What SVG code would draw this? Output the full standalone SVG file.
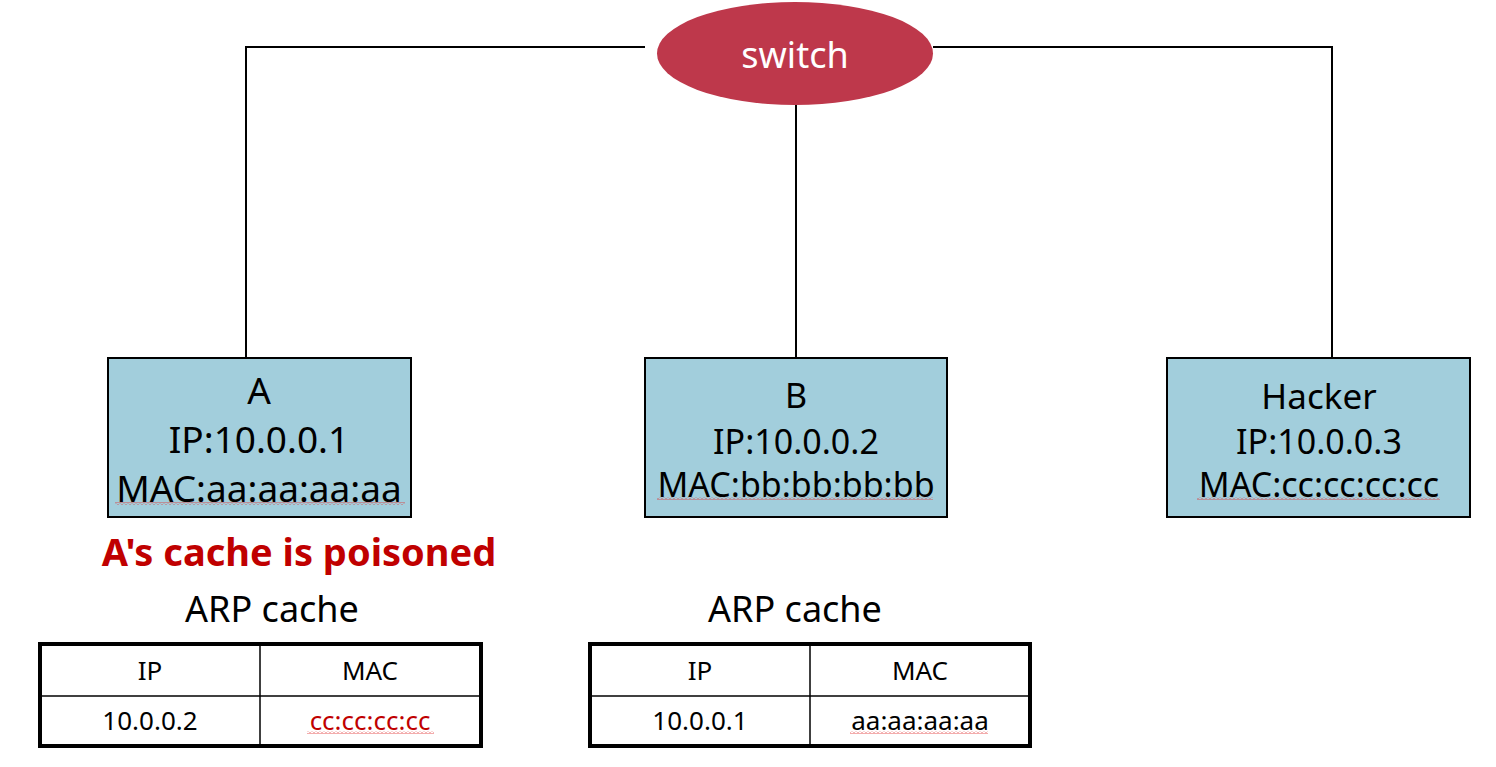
<svg xmlns="http://www.w3.org/2000/svg" width="1496" height="767" viewBox="0 0 1496 767">
<style>
text{font-family:"Noto Sans","Liberation Sans",sans-serif;text-anchor:middle;fill:#000}
.box{fill:#A2CEDC;stroke:#000;stroke-width:2}
.wire{fill:none;stroke:#000;stroke-width:2}
.t37{font-size:37px}
.t34{font-size:34px}
.t36{font-size:36px}
.t26{font-size:26px}
.outer{fill:none;stroke:#000;stroke-width:4}
.inner{fill:none;stroke:#000;stroke-width:1.5}
.red{fill:#C00000}
.wavy{fill:url(#wave)}
</style>
<defs>
<pattern id="wave" width="4" height="3" patternUnits="userSpaceOnUse">
<path d="M0,2.5 L2,0.5 L4,2.5" fill="none" stroke="#E03030" stroke-width="0.8"/>
</pattern>
</defs>
<rect width="1496" height="767" fill="#fff"/>
<g id="connectors">
<path class="wire" d="M645,47 H246 V358"/>
<path class="wire" d="M933,47 H1332 V358"/>
<path class="wire" d="M796,105 V358"/>
</g>
<g id="switch">
<ellipse cx="795" cy="53.5" rx="138" ry="51.5" fill="#BE384B"/>
<text x="795" y="68" style="font-size:36px;fill:#fff">switch</text>
</g>
<g id="nodeA">
<rect class="box" x="108" y="358" width="303" height="159"/>
<text class="t37" x="259" y="404">A</text>
<text class="t37" x="259" y="453">IP:10.0.0.1</text>
<text class="t37" x="259" y="502">MAC:aa:aa:aa:aa</text>
<rect class="wavy" x="115" y="502" width="290" height="3"/>
</g>
<g id="nodeB">
<rect class="box" x="645" y="358" width="302" height="159"/>
<text class="t34" x="796" y="408">B</text>
<text class="t34" x="796" y="454">IP:10.0.0.2</text>
<text class="t34" x="796" y="497">MAC:bb:bb:bb:bb</text>
<rect class="wavy" x="657" y="497" width="276" height="3"/>
</g>
<g id="nodeHacker">
<rect class="box" x="1167" y="358" width="303" height="159"/>
<text class="t34" x="1319" y="409" style="font-size:35px">Hacker</text>
<text class="t34" x="1319" y="454">IP:10.0.0.3</text>
<text class="t34" x="1319" y="497">MAC:cc:cc:cc:cc</text>
<rect class="wavy" x="1197" y="497" width="243" height="3"/>
</g>
<g id="poisoned">
<text x="299" y="566" style="font-size:38px;font-weight:bold;fill:#C00000">A's cache is poisoned</text>
</g>
<g id="cacheA">
<text class="t36" x="272" y="622">ARP cache</text>
<rect class="outer" x="40" y="644" width="441" height="102"/>
<line class="inner" x1="260" y1="644" x2="260" y2="746"/>
<line class="inner" x1="40" y1="696" x2="481" y2="696"/>
<text class="t26" x="150" y="680">IP</text>
<text class="t26" x="370" y="680">MAC</text>
<text class="t26" x="150" y="730">10.0.0.2</text>
<text class="t26 red" x="370" y="730">cc:cc:cc:cc</text>
<rect class="wavy" x="307" y="731" width="127" height="3"/>
</g>
<g id="cacheB">
<text class="t36" x="795" y="622">ARP cache</text>
<rect class="outer" x="590" y="644" width="440" height="102"/>
<line class="inner" x1="810" y1="644" x2="810" y2="746"/>
<line class="inner" x1="590" y1="696" x2="1030" y2="696"/>
<text class="t26" x="700" y="680">IP</text>
<text class="t26" x="920" y="680">MAC</text>
<text class="t26" x="700" y="730">10.0.0.1</text>
<text class="t26" x="920" y="730">aa:aa:aa:aa</text>
<rect class="wavy" x="850" y="731" width="138" height="3"/>
</g>
</svg>
